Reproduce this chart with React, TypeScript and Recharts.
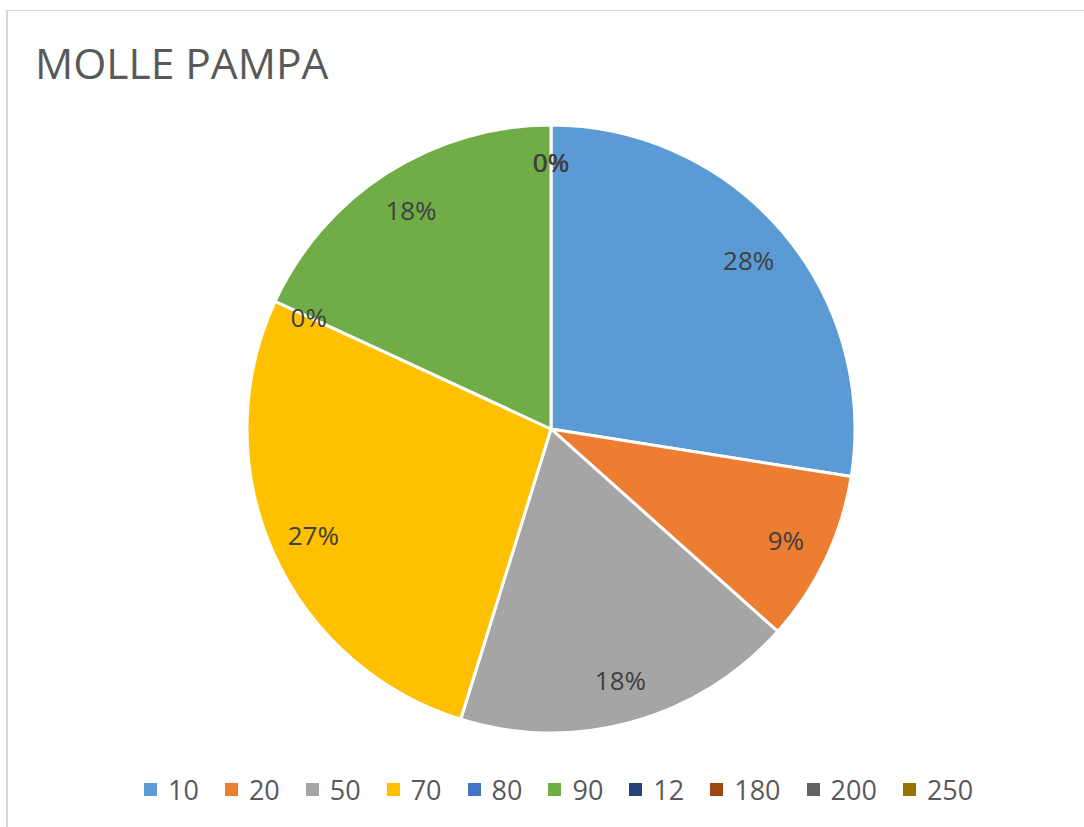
import { PieChart, Pie, Cell, Legend } from 'recharts';

const categories = ['10', '20', '50', '70', '80', '90', '12', '180', '200', '250'];
const shares = [27.5, 9.1, 18.2, 27.1, 0, 18.1, 0, 0, 0, 0];

const COLORS = [
  '#5B9BD5', // 10
  '#ED7D31', // 20
  '#A5A5A5', // 50
  '#FFC000', // 70
  '#4472C4', // 80
  '#70AD47', // 90
  '#264478', // 12
  '#9E480E', // 180
  '#636363', // 200
  '#997300', // 250
];

const FONT = '"Open Sans", "Noto Sans", sans-serif';
const RAD = Math.PI / 180;

const chartData = categories.map((name, i) => ({ name, value: shares[i] }));

function renderLabel(props: any) {
  const { cx, cy, midAngle, percent } = props;
  const r = percent === 0 ? 267 : 260;
  const x = cx + r * Math.cos(-midAngle * RAD);
  const y = cy + r * Math.sin(-midAngle * RAD);
  return (
    <text
      x={x}
      y={y}
      fill="#404040"
      fontSize={26}
      fontFamily={FONT}
      textAnchor="middle"
      dominantBaseline="central"
    >
      {`${Math.round(percent * 100)}%`}
    </text>
  );
}

function LegendRow() {
  return (
    <div style={{ display: 'flex', alignItems: 'center', fontFamily: FONT, fontSize: 27, color: '#595959' }}>
      {categories.map((name, i) => (
        <div key={name} style={{ display: 'flex', alignItems: 'center', marginRight: i < categories.length - 1 ? 26 : 0 }}>
          <span style={{ width: 13, height: 13, background: COLORS[i], display: 'inline-block', marginRight: 11 }} />
          <span style={{ lineHeight: 1 }}>{name}</span>
        </div>
      ))}
    </div>
  );
}

export default function App() {
  return (
    <div style={{ position: 'absolute', left: 0, top: 0, width: 1084, height: 827, background: '#fff', overflow: 'hidden' }}>
      <div
        style={{
          position: 'absolute',
          left: 6,
          top: 10,
          width: 1078,
          height: 817,
          borderTop: '1px solid #d9d9d9',
          borderLeft: '2px solid #d9d9d9',
          boxSizing: 'border-box',
        }}
      />
      <div
        style={{
          position: 'absolute',
          left: 35,
          top: 42,
          fontFamily: FONT,
          fontSize: 42.5,
          lineHeight: 1,
          color: '#595959',
        }}
      >
        MOLLE PAMPA
      </div>
      <div style={{ position: 'absolute', left: 0, top: 0 }}>
        <PieChart width={1084} height={827} margin={{ top: 0, right: 0, bottom: 0, left: 0 }}>
          <Pie
            data={chartData}
            dataKey="value"
            nameKey="name"
            cx={551}
            cy={429}
            outerRadius={304}
            startAngle={90}
            endAngle={-270}
            stroke="#ffffff"
            strokeWidth={3}
            label={renderLabel}
            labelLine={false}
            isAnimationActive={false}
          >
            {chartData.map((_, index) => (
              <Cell key={`cell-${index}`} fill={COLORS[index % COLORS.length]} />
            ))}
          </Pie>
          <Legend
            content={() => <LegendRow />}
            wrapperStyle={{ position: 'absolute', left: 144, top: 776, width: 900 }}
          />
        </PieChart>
      </div>
    </div>
  );
}
